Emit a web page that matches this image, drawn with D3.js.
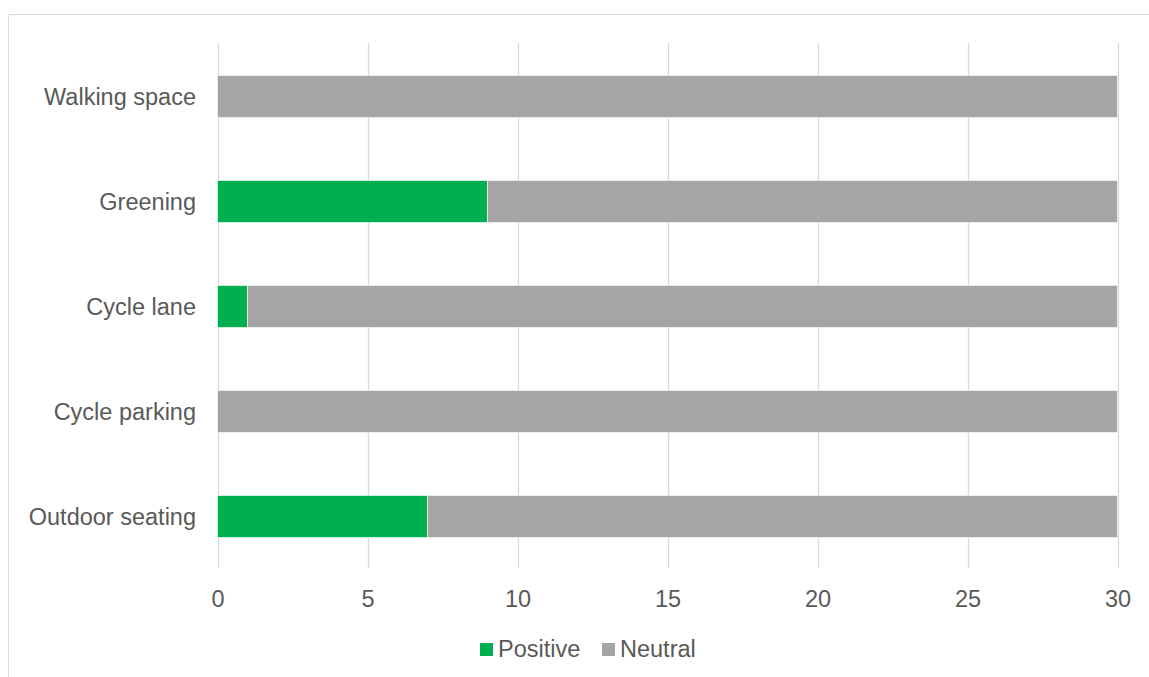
<!DOCTYPE html>
<html><head><meta charset="utf-8">
<script src="https://cdn.jsdelivr.net/npm/d3@7"></script>
<style>html,body{margin:0;padding:0;background:#fff;}</style>
</head><body>
<script>
const categories = ["Walking space","Greening","Cycle lane","Cycle parking","Outdoor seating"];
const positive = [0, 9, 1, 0, 7];
const neutral = [30, 21, 29, 30, 23];
const seriesNames = ["Positive","Neutral"];
const seriesColors = ["#00B050","#A5A5A5"];
const xTicks = [0,5,10,15,20,25,30];

const W = 1149, H = 677;
const svg = d3.select("body").append("svg").attr("width",W).attr("height",H);
const font = "'Liberation Sans', Arial, sans-serif";
const textColor = "#595959";
const fs = "23.5px";

// chart border
svg.append("path").attr("d",`M8.5,${H} L8.5,14.5 L${W},14.5`).attr("fill","none").attr("stroke","#d9d9d9").attr("stroke-width",1);

const x = d3.scaleLinear().domain([0,30]).range([217.5,1117.5]);
const y = d3.scaleBand().domain(categories).range([44,569]).paddingInner(0.6).paddingOuter(0.3);

// gridlines
svg.append("g").selectAll("line").data(xTicks).join("line")
  .attr("x1",d=>Math.round(x(d))+0.5).attr("x2",d=>Math.round(x(d))+0.5)
  .attr("y1",43).attr("y2",568).attr("stroke","#d9d9d9").attr("stroke-width",1.3);

const rows = categories.map((c,i)=>({cat:c, vals:[positive[i], neutral[i]]}));
const stacked = d3.stack().keys([0,1]).value((d,k)=>d.vals[k])(rows);

svg.append("g").selectAll("g").data(stacked).join("g")
  .attr("fill",(d,i)=>seriesColors[i])
  .selectAll("rect").data(d=>d).join("rect")
  .attr("x",d=>x(d[0])).attr("width",d=>Math.max(0,x(d[1])-x(d[0])))
  .attr("y",d=>y(d.data.cat)).attr("height",y.bandwidth())
  .attr("stroke","#fff").attr("stroke-width",0.6)
  .attr("display",d=>d[1]-d[0]>0?null:"none");

// x axis labels
const xAxis = svg.append("g").attr("transform","translate(0,568)")
  .call(d3.axisBottom(x).tickValues(xTicks).tickSize(0).tickPadding(0).tickFormat(d3.format("d")));
xAxis.select(".domain").remove();
xAxis.selectAll("text").attr("y",39).attr("dy",0).attr("font-size",fs).attr("font-family",font).attr("fill",textColor);

// y axis labels
const yAxis = svg.append("g").attr("transform","translate(217,0)")
  .call(d3.axisLeft(y).tickSize(0).tickPadding(21));
yAxis.select(".domain").remove();
yAxis.selectAll("text").attr("font-size",fs).attr("font-family",font).attr("fill",textColor).attr("dy","0.35em");

// legend
const legendItems = [{name:seriesNames[0],color:seriesColors[0],x:480},{name:seriesNames[1],color:seriesColors[1],x:602}];
const lg = svg.append("g").selectAll("g").data(legendItems).join("g").attr("transform",d=>`translate(${d.x},0)`);
lg.append("rect").attr("x",0).attr("y",643).attr("width",13).attr("height",13).attr("fill",d=>d.color);
lg.append("text").attr("x",18).attr("y",657).attr("font-size",fs).attr("font-family",font).attr("fill",textColor).text(d=>d.name);
</script>
</body></html>
